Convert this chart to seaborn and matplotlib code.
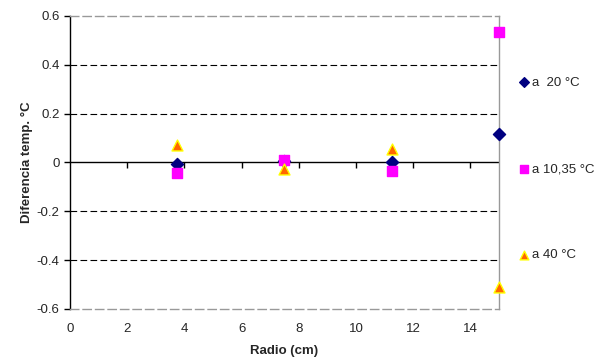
import numpy as np
import pandas as pd
import matplotlib
matplotlib.use('Agg')
import matplotlib.pyplot as plt
import matplotlib.ticker as mticker
import seaborn as sns

# Data
radio = [3.75, 7.5, 11.25, 15.0]
dif_20 = [-0.005, 0.005, 0.0, 0.115]
dif_1035 = [-0.045, 0.01, -0.035, 0.535]
dif_40 = [0.07, -0.025, 0.055, -0.51]

series_labels = ['a  20 °C', 'a 10,35 °C', 'a 40 °C']
x_ticks = [0, 2, 4, 6, 8, 10, 12, 14]
y_ticks = [-0.6, -0.4, -0.2, 0, 0.2, 0.4, 0.6]

df = pd.DataFrame({
    'Radio': radio * 3,
    'Dif': dif_20 + dif_1035 + dif_40,
    'Serie': [s for s in series_labels for _ in radio],
})

sns.set_style('white')
plt.rcParams['font.family'] = ['Liberation Sans', 'DejaVu Sans']
plt.rcParams['font.size'] = 9.5

fig = plt.figure(figsize=(6.04, 3.6), dpi=100)
ax = fig.add_axes([0.1159, 0.1417, 0.826 - 0.1159, 0.9556 - 0.1417])

styles = {
    'a  20 °C': dict(marker='D', color='#000080', edgecolor='#000080', s=38),
    'a 10,35 °C': dict(marker='s', color='#FF00FF', edgecolor='#FF00FF', s=55),
    'a 40 °C': dict(marker='^', color='#FF6600', edgecolor='#FFFF00', s=62),
}

# grid lines
for yv in [-0.4, -0.2, 0.2, 0.4]:
    ax.axhline(yv, color='black', lw=0.8, dashes=(6, 3), zorder=1)
ax.axhline(0, color='black', lw=1.0, zorder=1)

for lab in series_labels:
    st = styles[lab]
    sns.scatterplot(data=df[df['Serie'] == lab], x='Radio', y='Dif', ax=ax,
                    marker=st['marker'], color=st['color'], edgecolor=st['edgecolor'],
                    linewidth=1.0, s=st['s'], label=lab, zorder=3, clip_on=False)

ax.set_xlim(0, 15)
ax.set_ylim(-0.6, 0.6)
ax.set_xticks(x_ticks)
ax.set_yticks(y_ticks)
ax.yaxis.set_major_formatter(mticker.FuncFormatter(lambda v, p: '0' if abs(v) < 1e-9 else f'{v:.1f}'))
ax.tick_params(axis='x', length=0, pad=10, labelsize=9.5)
ax.tick_params(axis='y', length=4, width=1, direction='out', color='black', labelsize=9.5, left=True)

for sp in ['top', 'bottom']:
    ax.spines[sp].set_color('#999999')
    ax.spines[sp].set_linestyle((0, (6, 3)))
    ax.spines[sp].set_linewidth(1.0)
ax.spines['right'].set_color('#999999')
ax.spines['right'].set_linewidth(1.0)
ax.spines['left'].set_color('black')
ax.spines['left'].set_linewidth(1.0)

# ticks along the zero line
sec = ax.secondary_xaxis(0, transform=ax.transData)
sec.set_xticks(x_ticks[1:])
sec.tick_params(axis='x', length=4, width=1, direction='out', color='black', labelbottom=False, labeltop=False)
for sp in sec.spines.values():
    sp.set_visible(False)

ax.set_xlabel('Radio (cm)', fontweight='bold', fontsize=9.5, labelpad=7)
ax.set_ylabel('Diferencia temp. °C', fontweight='bold', fontsize=9.5, labelpad=3)

leg = ax.legend(loc='center left', bbox_to_anchor=(1.03, 0.478), frameon=False,
                labelspacing=5.6, handletextpad=0.1, handlelength=1.0,
                borderaxespad=0, fontsize=9.5, markerscale=0.8)

fig.savefig('out.png', dpi=100)
